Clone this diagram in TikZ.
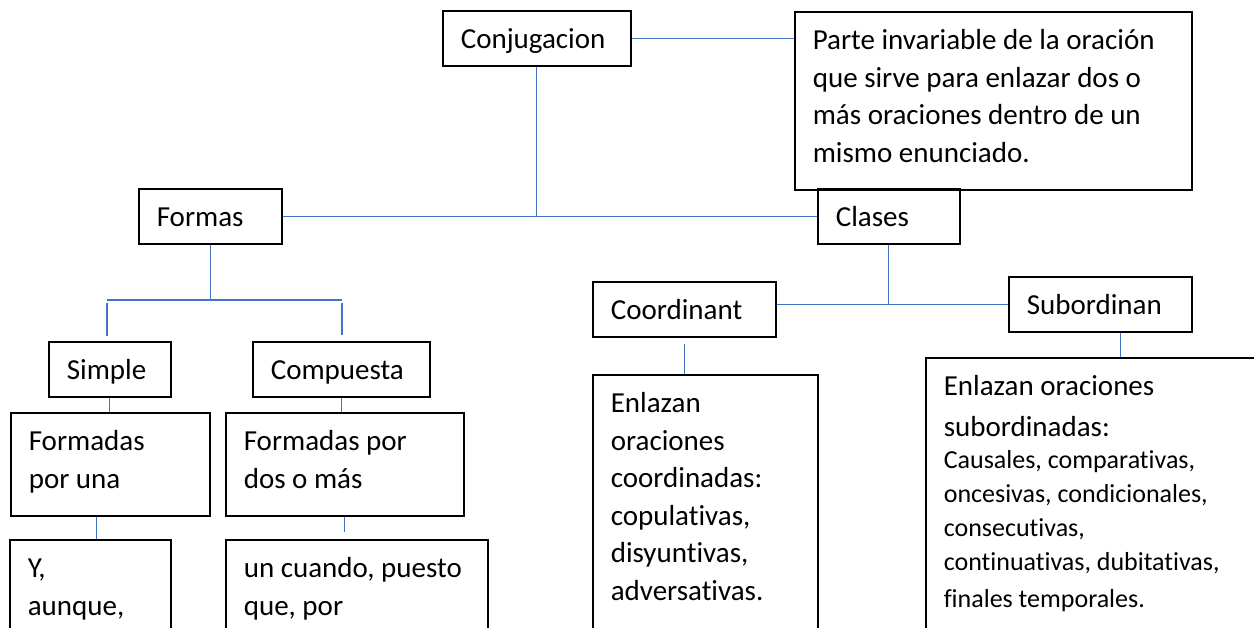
\documentclass[tikz,border=0pt]{standalone}
\usepackage{fontspec}
\setmainfont{Carlito}[Ligatures=NoCommon]
\definecolor{linkblue}{HTML}{4472C4}
\begin{document}
\begin{tikzpicture}[
x=1pt, y=-1pt,
box/.style={draw, line width=1.6pt, anchor=north west, align=flush left, text width=#1,
  inner xsep=18pt, inner ysep=0pt, text height=38pt, text depth=17pt,
  font=\fontsize{29pt}{37.5pt}\selectfont},
tall/.style={text depth=#1},
link/.style={draw=linkblue, line width=1.2pt}]
\path[use as bounding box, fill=white] (0,0) rectangle (1254,628);
\clip (0,0) rectangle (1254,628);
\node[box=152pt] (conj) at (442,10) {Conjugacion};
\node[box=106pt] (clases) at (817,188) {Clases};
\node[box=361pt, tall=140pt] (defn) at (794,11) {Parte invariable de la oración\\ que sirve para enlazar dos o\\ más oraciones dentro de un\\ mismo enunciado.};
\node[box=107pt] (formas) at (138,188) {Formas};
\node[box=86pt] (simple) at (48,341) {Simple};
\node[box=141pt] (compuesta) at (252,341) {Compuesta};
\node[box=163pt, tall=65pt] (una) at (10,412) {Formadas\\ por una};
\node[box=202pt, tall=65pt] (dos) at (225,412) {Formadas por\\ dos o más};
\node[box=125pt, tall=120pt] (ybox) at (9,539) {Y,\\ aunque,};
\node[box=226pt, tall=120pt] (cuando) at (225,539) {un cuando, puesto\\ que, por};
\node[box=147pt] (coord) at (592,281) {Coordinant};
\node[box=147pt] (subord) at (1008,276) {Subordinan};
\node[box=189pt, tall=300pt] (ecoord) at (592,374) {Enlazan\\ oraciones\\ coordinadas:\\ copulativas,\\ disyuntivas,\\ adversativas.};
\node[box=340pt, tall=300pt] (esub) at (925,357) {Enlazan oraciones\\[3pt] subordinadas:\\[-2pt] \fontsize{26pt}{34pt}\selectfont Causales, comparativas,\\ oncesivas, condicionales,\\ consecutivas,\\ continuativas, dubitativas,\\ finales temporales.};
\coordinate (fl) at (107,300);
\coordinate (fr) at (342,300);
\coordinate (yt) at ([xshift=6pt]ybox.north);
\coordinate (st) at ([xshift=20pt]subord.south);
\draw[link] (conj.east) -- (conj.east -| defn.west);
\draw[link] (conj.south) -- (conj.south |- formas.east);
\draw[link] (formas.east) -- (clases.west);
\draw[link] (formas.south) -- (formas.south |- fl);
\draw[link] (fl) -- (fr);
\draw[link, shorten <=3pt, shorten >=5pt] (fl) -- (fl |- simple.north);
\draw[link, shorten <=3pt, shorten >=6pt] (fr) -- (fr |- compuesta.north);
\draw[link] (simple.south) -- (simple.south |- una.north);
\draw[link] (compuesta.south) -- (compuesta.south |- dos.north);
\draw[link] (yt |- una.south) -- (yt);
\draw[link, shorten >=7pt] (dos.south) -- (dos.south |- cuando.north);
\draw[link] (clases.south) -- (clases.south |- subord.west);
\draw[link] (coord.east |- subord.west) -- (subord.west);
\draw[link, shorten <=6pt] (coord.south) -- (coord.south |- ecoord.north);
\draw[link] (st) -- (st |- esub.north);
\end{tikzpicture}
\end{document}
